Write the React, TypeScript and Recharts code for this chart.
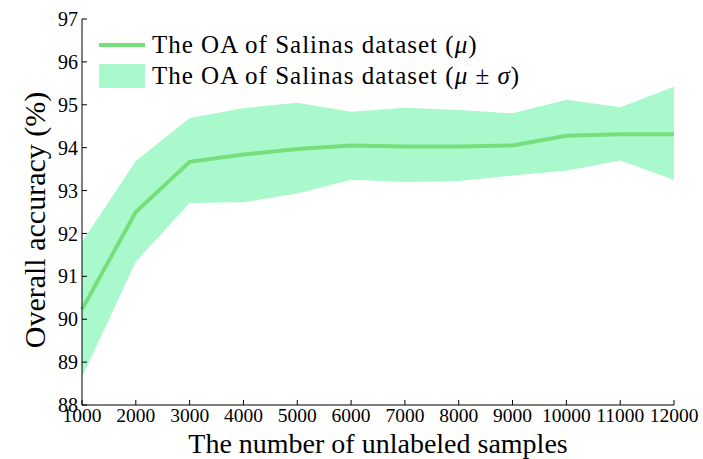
import React from 'react';
import { ComposedChart, Area, Line, XAxis, YAxis, Legend } from 'recharts';

const samples = [1000, 2000, 3000, 4000, 5000, 6000, 7000, 8000, 9000, 10000, 11000, 12000];
const meanOA = [90.23, 92.5, 93.67, 93.84, 93.97, 94.05, 94.03, 94.03, 94.05, 94.28, 94.31, 94.31];
const upperOA = [91.8, 93.69, 94.69, 94.92, 95.05, 94.84, 94.93, 94.88, 94.8, 95.12, 94.94, 95.42];
const lowerOA = [88.65, 91.34, 92.71, 92.73, 92.93, 93.25, 93.2, 93.22, 93.35, 93.46, 93.7, 93.25];
const xTicks = [1000, 2000, 3000, 4000, 5000, 6000, 7000, 8000, 9000, 10000, 11000, 12000];
const yTicks = [88, 89, 90, 91, 92, 93, 94, 95, 96, 97];

const LINE_COLOR = '#76df7c';
const BAND_COLOR = '#aaf9cc';
const FONT = 'Liberation Serif';

const data = samples.map((s, i) => ({
  x: s,
  mean: meanOA[i],
  range: [lowerOA[i], upperOA[i]],
}));

const LegendContent = () => (
  <div style={{ fontFamily: FONT, fontSize: 25, letterSpacing: 1, color: '#000', lineHeight: '31px' }}>
    <div style={{ display: 'flex', alignItems: 'center', height: 31 }}>
      <div style={{ width: 46, height: 4, background: LINE_COLOR, marginRight: 7 }} />
      <span style={{ whiteSpace: 'nowrap' }}>
        The OA of Salinas dataset (<i>μ</i>)
      </span>
    </div>
    <div style={{ display: 'flex', alignItems: 'center', height: 31 }}>
      <div style={{ width: 46, height: 24, background: BAND_COLOR, marginRight: 7 }} />
      <span style={{ whiteSpace: 'nowrap' }}>
        The OA of Salinas dataset (<i>μ</i> ± <i>σ</i>)
      </span>
    </div>
  </div>
);

const YLabel = () => {
  const cx = 34;
  const cy = 220;
  return (
    <text
      x={cx}
      y={cy}
      transform={`rotate(-90, ${cx}, ${cy})`}
      textAnchor="middle"
      dominantBaseline="central"
      fontFamily={FONT}
      fontSize={30}
      fill="#000"
    >
      Overall accuracy (%)
    </text>
  );
};

export default function App() {
  return (
    <div style={{ position: 'absolute', left: 0, top: 0, width: 703, height: 459 }}>
      <ComposedChart
        width={703}
        height={459}
        data={data}
        margin={{ top: 19, right: 29, bottom: 0, left: 0 }}
      >
        <XAxis
          dataKey="x"
          type="number"
          domain={[1000, 12000]}
          ticks={xTicks}
          interval={0}
          height={54}
          tickSize={-5}
          tickMargin={8}
          stroke="#000"
          tick={{ fill: '#000', fontFamily: FONT, fontSize: 19.5 }}
          axisLine={{ stroke: '#000', strokeWidth: 1 }}
          tickLine={{ stroke: '#000' }}
          label={{
            value: 'The number of unlabeled samples',
            position: 'insideBottom',
            offset: 6,
            fill: '#000',
            fontFamily: FONT,
            fontSize: 28,
          }}
        />
        <YAxis
          type="number"
          domain={[88, 97]}
          ticks={yTicks}
          interval={0}
          width={82}
          tickSize={-5}
          tickMargin={9}
          stroke="#000"
          tick={{ fill: '#000', fontFamily: FONT, fontSize: 20 }}
          axisLine={{ stroke: '#000', strokeWidth: 1 }}
          tickLine={{ stroke: '#000' }}
          label={<YLabel />}
        />
        <Legend
          layout="horizontal"
          verticalAlign="middle"
          align="center"
          content={<LegendContent />}
          wrapperStyle={{ left: 99, top: 29, width: 470, height: 62 }}
        />
        <Area
          type="linear"
          dataKey="range"
          stroke="none"
          fill={BAND_COLOR}
          fillOpacity={1}
          isAnimationActive={false}
          legendType="none"
        />
        <Line
          type="linear"
          dataKey="mean"
          stroke={LINE_COLOR}
          strokeWidth={4}
          dot={false}
          activeDot={false}
          isAnimationActive={false}
          legendType="none"
        />
      </ComposedChart>
    </div>
  );
}
